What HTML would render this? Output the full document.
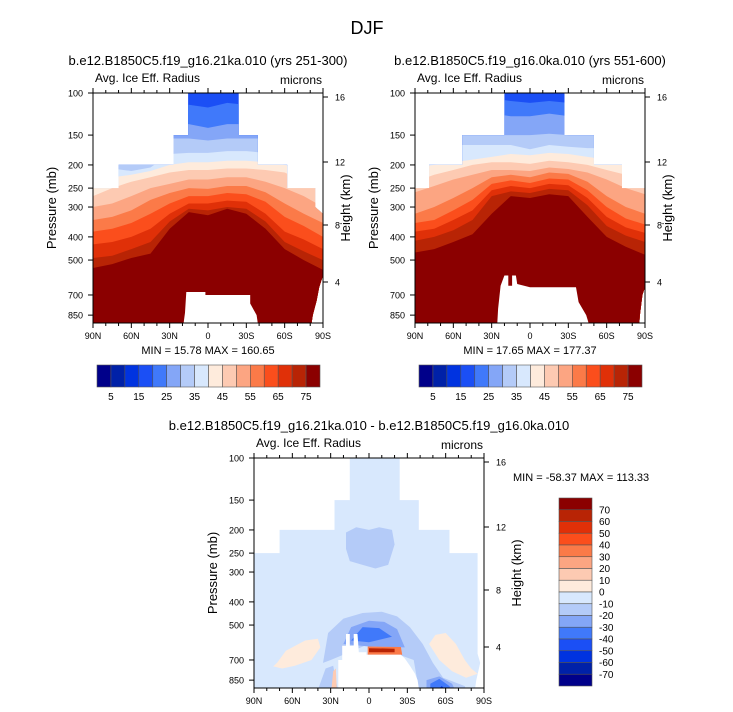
<!DOCTYPE html>
<html><head><meta charset="utf-8"><style>
body{margin:0;background:#fff;}
svg{display:block;font-family:"Liberation Sans",sans-serif;}
</style></head><body>
<svg id="fig" width="733" height="712" viewBox="0 0 733 712" xmlns="http://www.w3.org/2000/svg">
<text x="367" y="34" font-size="18" text-anchor="middle">DJF</text>
</svg>
<script>
const lats=[90,75,60,45,30,15,0,-15,-30,-45,-60,-75,-90];
const colors=["#00008a","#0021a8","#0033e0","#1b4ff5","#4079fa","#84a6f7","#b4cbf8","#d8e8fd","#feebdc","#fdcab2","#fca582","#fb7a48","#fb4e1c","#e03008","#b82405","#8b0000"];
const pTicks=[100,150,200,250,300,400,500,700,850];
const hTicks=[16,12,8,4];
const hOffsets=[4,69,132,189];
const latTicks=[90,60,30,0,-30,-60,-90];
const latLabels=["90N","60N","30N","0","30S","60S","90S"];
const cbLabels1=[5,15,25,35,45,55,65,75];
const cbLabels3=[70,60,50,40,30,20,10,0,-10,-20,-30,-40,-50,-60,-70];
const p1Levels=[4,5,6,7,8,9,10,11,12,13,14,15];
const p1Bounds=[
[105,105,105,105,110,112,115,110,112,115,115,115,115],
[130,130,130,130,135,135,140,135,135,135,135,135,135],
[190,185,165,155,155,155,158,155,155,155,155,160,165],
[205,207,212,205,180,178,178,175,175,178,185,190,195],
[240,225,220,212,200,195,195,192,192,195,200,210,230],
[270,250,235,225,215,210,210,207,207,210,215,235,260],
[300,290,270,250,240,230,230,225,225,235,250,270,300],
[340,330,310,280,262,250,252,245,245,260,290,320,350],
[380,370,350,320,290,270,270,262,265,285,330,360,400],
[430,420,400,370,320,290,290,282,285,320,380,410,450],
[490,480,450,420,345,305,310,300,305,345,420,460,500],
[540,520,490,470,370,315,325,305,320,370,450,500,550]];
const p2Bounds=[
[105,105,105,105,105,108,110,108,110,110,110,110,110],
[120,120,120,120,122,125,125,122,125,125,125,125,125],
[150,150,150,150,150,150,150,148,150,150,150,150,150],
[165,165,165,165,165,165,172,165,168,170,170,170,170],
[205,200,195,190,185,180,182,178,180,185,190,200,210],
[235,220,210,200,195,195,198,192,195,200,210,220,240],
[260,245,230,220,210,210,212,205,208,215,230,250,265],
[320,300,275,250,225,220,225,215,218,235,270,300,320],
[350,340,310,280,240,232,238,228,230,255,300,335,355],
[380,370,340,310,255,245,250,240,243,275,330,365,385],
[415,400,375,340,270,258,262,252,255,295,360,395,420],
[465,450,420,390,320,270,275,265,270,330,400,440,475]];
const mask1=[[90,1000],[90,250],[70,250],[70,200],[27,200],[27,150],[15.6,150],[15.6,100],[-24,100],[-24,150],[-39,150],[-39,200],[-62,200],[-62,250],[-84,250],[-84,300],[-90,320],[-90,580],[-87,650],[-85,740],[-82,850],[-80,1000]];
const hole1=[[20,1000],[18,830],[17,680],[2,680],[2,700],[-33,700],[-33,760],[-38,850],[-40,1000]];
const mask2=[[90,1000],[90,250],[79,250],[79,200],[53,200],[53,150],[20,150],[20,100],[-27,100],[-27,150],[-50,150],[-50,200],[-72,200],[-72,250],[-90,250],[-90,650],[-88,700],[-86,850],[-85,1000]];
const hole2=[[26,1000],[25,800],[23,640],[20,580],[17,580],[17,640],[14,640],[14,580],[11,580],[10,630],[0,650],[-36,650],[-38,750],[-44,850],[-48,1000]];
const mask3=[[90,1000],[90,250],[70,250],[70,200],[27,200],[27,150],[15,150],[15,100],[-24,100],[-24,150],[-39,150],[-39,200],[-63,200],[-63,250],[-85,250],[-85,660],[-87,720],[-84,850],[-82,1000]];
const hole3=[[24,1000],[24,700],[21,700],[21,610],[18,610],[18,545],[15,545],[15,610],[12,610],[12,545],[9,545],[8,650],[2,650],[2,665],[-25,665],[-28,690],[-32,740],[-36,800],[-38,850],[-40,1000]];
const diffPatches=[
 {c:6,pts:[[18,205],[10,195],[0,200],[-8,195],[-18,200],[-20,230],[-15,280],[-5,290],[5,280],[15,270],[18,240]],name:'upper-negative-patch'},
 {c:6,pts:[[36,720],[32,540],[20,470],[5,445],[-10,440],[-22,460],[-32,510],[-42,600],[-50,720],[-58,830],[-75,900],[-78,1000],[-40,1000],[-35,700],[0,600],[30,700]],name:'lower-negative-arc'},
 {c:5,pts:[[20,600],[14,510],[0,480],[-12,485],[-22,520],[-28,620],[0,615]],name:'inner-negative-patch'},
 {c:4,pts:[[14,580],[5,510],[-8,515],[-18,560],[0,590]],name:'core-negative-patch'},
 {c:5,pts:[[-45,850],[-55,820],[-65,880],[-70,1000],[-45,1000]],name:'southern-negative-ring'},
 {c:4,pts:[[-48,880],[-55,840],[-63,900],[-66,1000],[-48,1000]],name:'southern-negative-spot'},
 {c:2,pts:[[-52,950],[-57,900],[-62,960],[-63,1000],[-52,1000]],name:'southern-negative-core'},
 {c:8,pts:[[72,720],[65,640],[50,580],[40,570],[38,620],[45,700],[58,740],[68,760],[75,745]],name:'northern-positive-patch'},
 {c:8,pts:[[-47,600],[-52,550],[-60,540],[-68,600],[-75,700],[-80,760],[-85,800],[-76,830],[-65,780],[-55,700]],name:'southern-positive-patch'},
 {c:6,pts:[[42,1000],[34,760],[28,740],[25,900],[24,1000]],name:'nh-surface-negative'},
 {c:9,pts:[[30,1000],[28,780],[26,760],[25,1000]],name:'nh-surface-positive'},
 {c:11,pts:[[1,615],[-25,618],[-26,665],[1,665]],name:'surface-positive-strip'},
 {c:14,pts:[[0,625],[-20,628],[-20,650],[0,650]],name:'surface-positive-core'}];

const svg=document.getElementById('fig');
const NS="http://www.w3.org/2000/svg";
function mk(tag,attrs,parent){const e=document.createElementNS(NS,tag);for(const k in attrs)e.setAttribute(k,attrs[k]);(parent||svg).appendChild(e);return e;}
function txt(x,y,s,size,anchor,parent){const t=mk('text',{x:x,y:y,'font-size':size,'text-anchor':anchor||'start'},parent);t.textContent=s;return t;}

function panel(id,ox,oy,title,bounds,levels,mask,hole,patches,minmax,minmaxPos,hOff){
  const W=230,H=230;
  const X=lat=>ox+(90-lat)/180*W;
  const Y=p=>oy+Math.log10(p/100)*239;
  const pts=a=>a.map(q=>X(q[0]).toFixed(1)+','+Y(q[1]).toFixed(1)).join(' ');
  const g=mk('g',{});
  
  
  const defs=mk('defs',{},g);
  const cp=mk('clipPath',{id:id+'-clip'},defs);
  mk('polygon',{points:pts(mask)},cp);
  const cp2=mk('clipPath',{id:id+'-rect'},defs);
  mk('rect',{x:ox,y:oy,width:W,height:H},cp2);
  const fg=mk('g',{'clip-path':'url(#'+id+'-clip)'},g);
  const fg2=mk('g',{'clip-path':'url(#'+id+'-rect)'},fg);
  if(bounds){
    const base=mk('rect',{x:ox,y:oy,width:W,height:H,fill:colors[3]},fg2);
    
    
    bounds.forEach((b,k)=>{
      const poly=lats.map((l,i)=>[l,b[i]]).concat([[-90,1000],[90,1000]]);
      const el=mk('polygon',{points:pts(poly),fill:colors[levels[k]]},fg2);
      
      
    });
  } else {
    mk('rect',{x:ox,y:oy,width:W,height:H,fill:colors[7]},fg2);
    patches.forEach(pt=>{
      const el=mk('polygon',{points:pts(pt.pts),fill:colors[pt.c]},fg2);
      
      
    });
  }
  const h=mk('polygon',{points:pts(hole),fill:'#fff'},fg2);
  
  
  const fr=mk('rect',{x:ox,y:oy,width:W,height:H,fill:'none',stroke:'#000','stroke-width':1},g);
  
  
  pTicks.forEach(p=>{
    mk('line',{x1:ox-5,x2:ox,y1:Y(p),y2:Y(p),stroke:'#000'},g);
    const t=txt(ox-10,Y(p)+3.5,String(p),9,'end',g);
    
    
  });
  hTicks.forEach((hh,i)=>{
    const y=oy+hOffsets[i];
    mk('line',{x1:ox+W,x2:ox+W+5,y1:y,y2:y,stroke:'#000'},g);
    const t=txt(ox+W+12,y+3.5,String(hh),9,'start',g);
    
    
  });
  for(let l=90;l>=-90;l-=10){
    const major=l%30===0;
    mk('line',{x1:X(l),x2:X(l),y1:oy+H,y2:oy+H+(major?5:3),stroke:'#000'},g);
    mk('line',{x1:X(l),x2:X(l),y1:oy,y2:oy-(major?5:3),stroke:'#000'},g);
  }
  latTicks.forEach((l,i)=>{
    const t=txt(X(l),oy+H+16,latLabels[i],9,'middle',g);
    
    
  });
  const yl=txt(0,0,'Pressure (mb)',13,'middle',g);
  yl.setAttribute('transform','translate('+(ox-37)+','+(oy+115)+') rotate(-90)');
  
  
  const hl=txt(0,0,'Height (km)',13,'middle',g);
  hl.setAttribute('transform','translate('+(ox+W+hOff)+','+(oy+115)+') rotate(-90)');
  
  
  const vt=txt(ox+2,oy-11,'Avg. Ice Eff. Radius',12,'start',g);
  
  
  const ut=txt(ox+W-1,oy-9,'microns',12,'end',g);
  
  
  const tt=txt(ox+W/2,oy-28,title,13,'middle',g);
  
  
  const mm=txt(minmaxPos[0],minmaxPos[1],minmax,11,minmaxPos[2],g);
  
  
}

function hbar(x0,y0){
  const g=mk('g',{});
  
  
  const w=223/16;
  colors.forEach((c,i)=>{
    const r=mk('rect',{x:x0+i*w,y:y0,width:w,height:22,fill:c,stroke:'#555','stroke-width':0.6},g);
    
    
  });
  cbLabels1.forEach((v,i)=>{
    const t=txt(x0+(1+2*i)*w,y0+35,String(v),10,'middle',g);
    
    
  });
}
function vbar(x0,y0){
  const g=mk('g',{});
  
  
  const h=188/16;
  for(let i=0;i<16;i++){
    const r=mk('rect',{x:x0,y:y0+i*h,width:33,height:h,fill:colors[15-i],stroke:'#555','stroke-width':0.6},g);
    
    
  }
  cbLabels3.forEach((v,i)=>{
    const t=txt(x0+40,y0+(i+1)*h+3.5,String(v),10,'start',g);
    
    
  });
}

panel('panel-21ka',93,93,'b.e12.B1850C5.f19_g16.21ka.010 (yrs 251-300)',p1Bounds,p1Levels,mask1,hole1,null,'MIN =  15.78   MAX = 160.65',[208,354,'middle'],27);
hbar(97,365);
panel('panel-0ka',415,93,'b.e12.B1850C5.f19_g16.0ka.010 (yrs 551-600)',p2Bounds,p1Levels,mask2,hole2,null,'MIN =  17.65   MAX = 177.37',[530,354,'middle'],27);
hbar(419,365);
panel('panel-difference',254,458,'b.e12.B1850C5.f19_g16.21ka.010 - b.e12.B1850C5.f19_g16.0ka.010',null,null,mask3,hole3,diffPatches,'MIN = -58.37   MAX = 113.33',[513,481,'start'],37);
vbar(559,498);
</script>
</body></html>
